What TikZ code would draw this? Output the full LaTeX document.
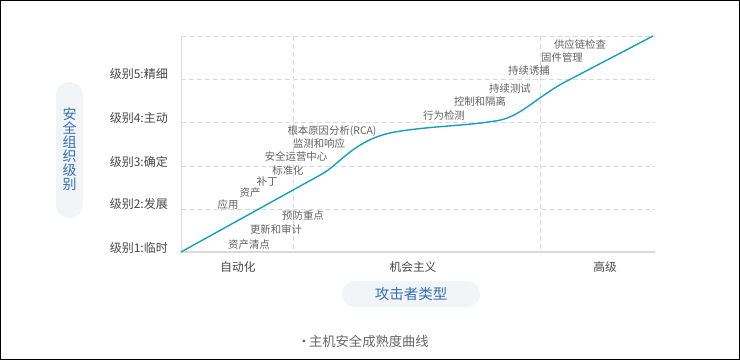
\documentclass[tikz,border=0pt]{standalone}
\usepackage{fontspec}
\setmainfont{Noto Sans CJK SC}
\usepackage{tikz}

\definecolor{curveteal}{RGB}{22,158,190}
\definecolor{gridgray}{RGB}{218,218,218}
\definecolor{pillbg}{RGB}{242,245,247}
\definecolor{titleblue}{RGB}{52,110,180}

\begin{document}
\begin{tikzpicture}[x=1pt, y=-1pt,
    lvl/.style={anchor=east, inner sep=0pt, text=black!72, font=\fontsize{12}{14}\selectfont},
    tag/.style={inner sep=0pt, text=black!62, font=\fontsize{10.4}{12}\selectfont},
    grp/.style={inner sep=0pt, text=black!72, font=\fontsize{11.7}{13}\selectfont},
    pill/.style={fill=pillbg, rounded corners=13pt}]
  \useasboundingbox (0,0) rectangle (740,360);
  \draw[line width=1pt] (0.5,0.5) rectangle (739.5,359.5);
  % grid: levels and attacker bands
  \draw[gridgray, dashed, dash pattern=on 5pt off 3pt] (181,36) -- (655,36);
  \draw[gridgray, dashed, dash pattern=on 5pt off 3pt] (181,79) -- (655,79);
  \draw[gridgray, dashed, dash pattern=on 5pt off 3pt] (181,122) -- (655,122);
  \draw[gridgray, dashed, dash pattern=on 5pt off 3pt] (181,166) -- (655,166);
  \draw[gridgray, dashed, dash pattern=on 5pt off 3pt] (181,209) -- (655,209);
  \draw[gridgray, dashed, dash pattern=on 5pt off 3pt] (293,36) -- (293,252);
  \draw[gridgray, dashed, dash pattern=on 5pt off 3pt] (540,36) -- (540,252);
  \draw[gridgray, line width=1pt] (181,36) -- (181,252);
  \draw[gridgray, line width=1.5pt] (181,252) -- (655,252);
  % maturity curve
  \draw[curveteal, line width=1.4pt, line join=round]
    (181,252) -- (322,174) .. controls (340,164) and (355,139) .. (395,132)
    .. controls (430,126) and (465,126) .. (495,121)
    .. controls (520,118) and (535,98) .. (565,82) -- (653,36);
  % level labels
  \node[lvl] (lvl5) at (168,74) {级别5:精细};
  \node[lvl] (lvl4) at (168,117.5) {级别4:主动};
  \node[lvl] (lvl3) at (168,161.5) {级别3:确定};
  \node[lvl] (lvl2) at (168,204) {级别2:发展};
  \node[lvl] (lvl1) at (168,247.5) {级别1:临时};
  % capabilities along the curve
  \node[tag] (inv) at (249,245) {资产清点};
  \node[tag] (upd) at (276,230) {更新和审计};
  \node[tag] (prev) at (303,216) {预防重点};
  \node[tag] (app) at (228,205) {应用};
  \node[tag] (asset) at (250,193) {资产};
  \node[tag] (patch) at (267,182) {补丁};
  \node[tag] (std) at (288,171) {标准化};
  \node[tag] (soc) at (296,157) {安全运营中心};
  \node[tag] (mon) at (319,144) {监测和响应};
  \node[tag] (rca) at (332,131) {根本原因分析(RCA)};
  \node[tag] (beh) at (444,116) {行为检测};
  \node[tag] (iso) at (480,102) {控制和隔离};
  \node[tag] (test) at (510,89) {持续测试};
  \node[tag] (trap) at (529,71) {持续诱捕};
  \node[tag] (fw) at (562,58) {固件管理};
  \node[tag] (sup) at (580,45) {供应链检查};
  % attacker bands
  \node[grp] (auto) at (238,267) {自动化};
  \node[grp] (opp) at (413,267) {机会主义};
  \node[grp] (adv) at (605,267) {高级};
  % axis titles
  \fill[pill] (56,82) rectangle (83,218);
  \node[text=titleblue, align=center, inner sep=0pt,
    font=\fontsize{14}{14}\selectfont] (ytitle) at (69.5,149)
    {安\\全\\组\\织\\级\\别};
  \fill[pill] (342,281) rectangle (480,307);
  \node[text=titleblue, inner sep=0pt, font=\fontsize{14.5}{16}\selectfont]
    (xtitle) at (411,294) {攻击者类型};
  \node[text=black!60, inner sep=0pt, font=\fontsize{13.3}{15}\selectfont]
    (caption) at (363,341) {·\hspace{-1.5pt}主机安全成熟度曲线};
\end{tikzpicture}
\end{document}
